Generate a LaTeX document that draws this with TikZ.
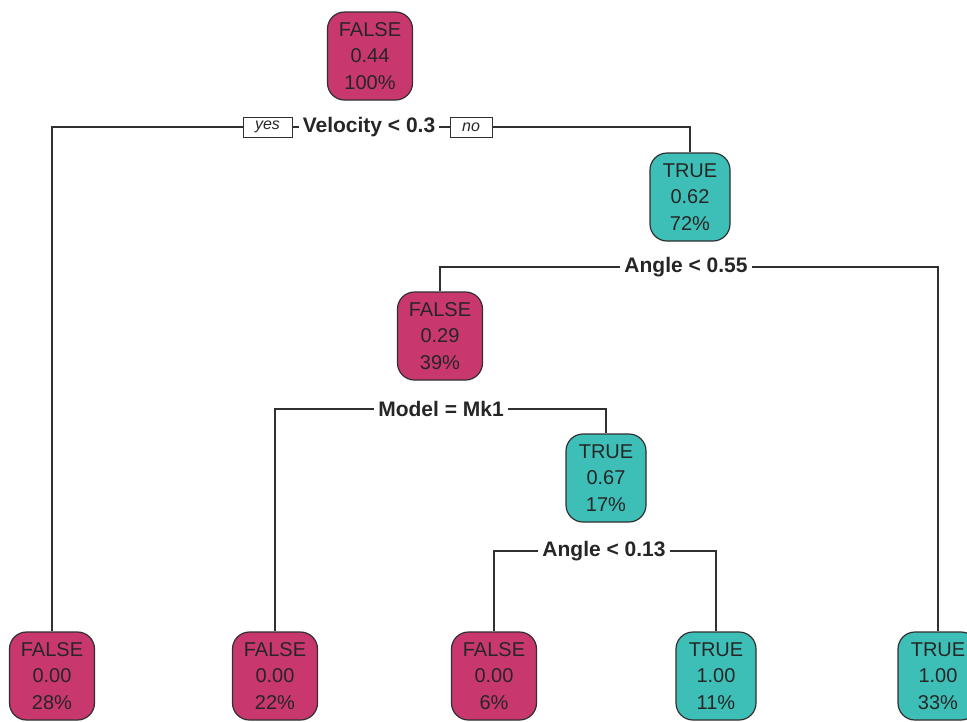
\documentclass[tikz,border=0pt]{standalone}
\usepackage{fontspec}
\setmainfont{Liberation Sans}
\usetikzlibrary{backgrounds}
\definecolor{falsefill}{HTML}{C8376E}
\definecolor{truefill}{HTML}{3DBFB8}
\definecolor{edge}{HTML}{303030}
\definecolor{ink}{HTML}{262626}
\tikzset{
  leafbox/.style={draw=edge, line width=1.2pt, rounded corners=17pt,
    minimum width=85pt, minimum height=88pt, align=center, inner sep=0pt,
    font=\fontsize{20}{26.5}\selectfont, text=ink},
  falsebox/.style={leafbox, fill=falsefill},
  truebox/.style={leafbox, fill=truefill, minimum width=80pt},
  splitlabel/.style={fill=white, text=ink, inner xsep=4pt, inner ysep=2pt,
    font=\bfseries\fontsize{21}{24}\selectfont},
  tagbox/.style={draw=edge, fill=white, line width=0.9pt, text=ink,
    inner xsep=2pt, inner ysep=1pt, minimum height=20pt,
    font=\itshape\fontsize{16}{18}\selectfont},
  wire/.style={draw=edge, line width=1.2pt}
}
\begin{document}
\begin{tikzpicture}[x=1pt, y=-1pt]
\useasboundingbox (0,0) rectangle (967,721);

% inner nodes
\node[falsebox] (root) at (370,56) {FALSE\\0.44\\100\%};
\node[truebox]  (n2)   at (690,197) {TRUE\\0.62\\72\%};
\node[falsebox] (n3)   at (440,336) {FALSE\\0.29\\39\%};
\node[truebox]  (n4)   at (606,478) {TRUE\\0.67\\17\%};

% leaves
\node[falsebox] (l1) at (52,676)  {FALSE\\0.00\\28\%};
\node[falsebox] (l2) at (275,676) {FALSE\\0.00\\22\%};
\node[falsebox] (l3) at (494,676) {FALSE\\0.00\\6\%};
\node[truebox]  (l4) at (716,676) {TRUE\\1.00\\11\%};
\node[truebox]  (l5) at (938,676) {TRUE\\1.00\\33\%};

% split rules
\node[splitlabel] (s1) at (369,127) {Velocity < 0.3};
\node[tagbox, minimum width=49pt] (yes) at (267.5,127) {yes};
\node[tagbox, minimum width=42pt] (no)  at (471,127) {no};
\node[splitlabel] (s2) at (686,267) {Angle < 0.55};
\node[splitlabel] (s3) at (441,409) {Model = Mk1};
\node[splitlabel] (s4) at (604,551) {Angle < 0.13};

% branches
\begin{scope}[on background layer]
  \fill[white] (0,0) rectangle (967,721);
  \draw[wire] (l1.north) |- (s1.center) -| (n2.north);
  \draw[wire] (n3.north) |- (s2.center) -| (l5.north);
  \draw[wire] (l2.north) |- (s3.center) -| (n4.north);
  \draw[wire] (l3.north) |- (s4.center) -| (l4.north);
\end{scope}
\end{tikzpicture}
\end{document}
